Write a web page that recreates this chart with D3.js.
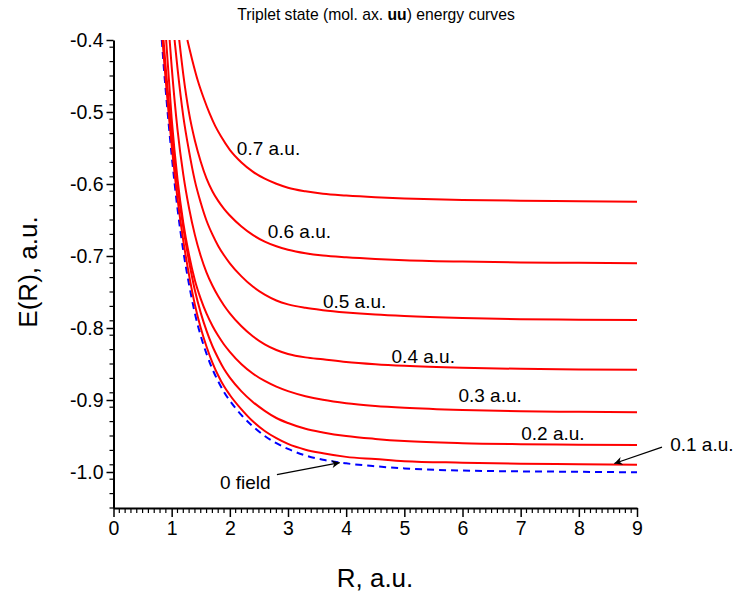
<!DOCTYPE html>
<html>
<head>
<meta charset="utf-8">
<script src="https://cdn.jsdelivr.net/npm/d3@7/dist/d3.min.js"></script>
<style>
  html, body { margin: 0; padding: 0; background: #fff; }
  svg { display: block; font-family: "Liberation Sans", Arial, sans-serif; }
</style>
</head>
<body>
<svg id="chart" width="736" height="597"></svg>
<script>
// ---------------- data ----------------
const xTicks = [0, 1, 2, 3, 4, 5, 6, 7, 8, 9];
const yTicks = [-0.4, -0.5, -0.6, -0.7, -0.8, -0.9, -1.0];
const xDomain = [0, 9];
const yDomain = [-1.05, -0.4];

// zero field (blue dashed)  [R, E]
const field0 = [[0.83,-0.400],[0.87,-0.443],[0.9,-0.472],[0.95,-0.518],[1.0,-0.560],[1.1,-0.634],[1.2,-0.693],[1.3,-0.740],[1.4,-0.780],[1.5,-0.811],[1.6,-0.836],[1.7,-0.857],[1.8,-0.874],[1.9,-0.889],[2.0,-0.901],[2.2,-0.921],[2.4,-0.937],[2.6,-0.950],[2.8,-0.960],[3.0,-0.968],[3.3,-0.977],[3.6,-0.983],[4.0,-0.988],[4.5,-0.992],[5.0,-0.995],[6.0,-0.998],[7.0,-0.9991],[8.0,-0.9997],[9.0,-1.0004]];
const field01 = [[0.843,-0.400],[0.87,-0.429],[0.9,-0.458],[0.95,-0.504],[1.0,-0.546],[1.1,-0.620],[1.2,-0.679],[1.3,-0.727],[1.4,-0.768],[1.5,-0.800],[1.6,-0.826],[1.7,-0.848],[1.8,-0.866],[1.9,-0.881],[2.0,-0.893],[2.2,-0.913],[2.4,-0.930],[2.6,-0.943],[2.8,-0.953],[3.0,-0.961],[3.3,-0.969],[3.6,-0.974],[4.0,-0.979],[4.5,-0.982],[5.0,-0.985],[6.0,-0.987],[7.0,-0.9885],[8.0,-0.9893],[9.0,-0.990]];
const field02 = [[0.86,-0.400],[0.9,-0.440],[0.95,-0.486],[1.0,-0.528],[1.1,-0.602],[1.2,-0.661],[1.3,-0.708],[1.4,-0.748],[1.5,-0.779],[1.6,-0.804],[1.7,-0.825],[1.8,-0.842],[1.9,-0.857],[2.0,-0.869],[2.2,-0.888],[2.4,-0.903],[2.6,-0.915],[2.8,-0.925],[3.0,-0.932],[3.3,-0.940],[3.6,-0.945],[4.0,-0.950],[4.5,-0.954],[5.0,-0.957],[6.0,-0.960],[7.0,-0.9613],[8.0,-0.962],[9.0,-0.9625]];
const field03 = [[0.905,-0.400],[1.0,-0.509],[1.1,-0.593],[1.2,-0.654],[1.3,-0.699],[1.4,-0.734],[1.5,-0.7595],[1.6,-0.7801],[1.7,-0.7968],[1.8,-0.8109],[1.9,-0.8229],[2.0,-0.8331],[2.2,-0.8503],[2.4,-0.8635],[2.6,-0.8736],[2.8,-0.8815],[3.0,-0.8877],[3.3,-0.8947],[3.6,-0.8998],[4.0,-0.9045],[4.5,-0.9082],[5.0,-0.9107],[6.0,-0.9138],[7.0,-0.9155],[8.0,-0.9164],[9.0,-0.917]];
const field04 = [[0.965,-0.400],[1.0,-0.437],[1.1,-0.524],[1.2,-0.587],[1.3,-0.634],[1.4,-0.671],[1.5,-0.700],[1.6,-0.723],[1.7,-0.741],[1.8,-0.756],[1.9,-0.7687],[2.0,-0.7796],[2.2,-0.7976],[2.4,-0.8118],[2.6,-0.8226],[2.8,-0.8305],[3.0,-0.836],[3.3,-0.8408],[3.6,-0.8435],[4.0,-0.8472],[4.5,-0.8503],[5.0,-0.8525],[6.0,-0.8552],[7.0,-0.8567],[8.0,-0.8575],[9.0,-0.858]];
const field05 = [[1.05,-0.400],[1.1,-0.439],[1.2,-0.506],[1.3,-0.555],[1.4,-0.596],[1.5,-0.626],[1.6,-0.651],[1.7,-0.670],[1.8,-0.686],[1.9,-0.699],[2.0,-0.7101],[2.2,-0.7283],[2.4,-0.7428],[2.6,-0.7537],[2.8,-0.7618],[3.0,-0.7672],[3.3,-0.772],[3.6,-0.7752],[4.0,-0.7784],[4.5,-0.7814],[5.0,-0.7835],[6.0,-0.7862],[7.0,-0.7877],[8.0,-0.7885],[9.0,-0.789]];
const field06 = [[1.13,-0.400],[1.2,-0.448],[1.3,-0.502],[1.4,-0.540],[1.5,-0.569],[1.6,-0.5925],[1.7,-0.610],[1.8,-0.6235],[1.9,-0.6345],[2.0,-0.6438],[2.2,-0.659],[2.4,-0.671],[2.6,-0.680],[2.8,-0.6865],[3.0,-0.6913],[3.3,-0.6962],[3.6,-0.6994],[4.0,-0.7019],[4.5,-0.7042],[5.0,-0.7058],[6.0,-0.7078],[7.0,-0.7089],[8.0,-0.7095],[9.0,-0.710]];
const field07 = [[1.27,-0.400],[1.35,-0.4266],[1.45,-0.4566],[1.55,-0.4806],[1.65,-0.5016],[1.75,-0.5196],[1.85,-0.5341],[2.0,-0.5526],[2.2,-0.5701],[2.4,-0.5831],[2.6,-0.5926],[2.8,-0.5996],[3.0,-0.6051],[3.3,-0.6101],[3.6,-0.6136],[4.0,-0.6161],[4.5,-0.6184],[5.0,-0.620],[6.0,-0.6221],[7.0,-0.6233],[8.0,-0.624],[9.0,-0.6246]];

const redCurves = [field01, field02, field03, field04, field05, field06, field07];
const curveLabels = ["0.2 a.u.", "0.3 a.u.", "0.4 a.u.", "0.5 a.u.", "0.6 a.u.", "0.7 a.u."];
// label anchors in data units (R, E): left edge / baseline
const labelR = [7.01, 5.93, 4.78, 3.60, 2.65, 2.12];
const labelE = [-0.9556, -0.9028, -0.8486, -0.7722, -0.675, -0.5597];

// ---------------- layout ----------------
const svg = d3.select("#chart");
const x = d3.scaleLinear().domain(xDomain).range([113.5, 637]);
const y = d3.scaleLinear().domain(yDomain).range([508, 40]);

const FONT = '"Liberation Sans", Arial, sans-serif';

// defs: arrowhead
svg.append("defs").append("marker")
  .attr("id", "arrow").attr("viewBox", "0 0 10 10")
  .attr("refX", 10).attr("refY", 5)
  .attr("markerWidth", 12).attr("markerHeight", 8)
  .attr("markerUnits", "userSpaceOnUse")
  .attr("orient", "auto")
  .append("path").attr("d", "M0,0 L10,5 L0,10 L3,5 Z").attr("fill", "#000");

// clip
svg.append("clipPath").attr("id", "plotclip")
  .append("rect").attr("x", x(0)).attr("y", y(-0.4) - 1)
  .attr("width", x(9) - x(0) + 2).attr("height", y(-1.05) - y(-0.4) + 1);

const line = d3.line().x(d => x(d[0])).y(d => y(d[1])).curve(d3.curveMonotoneX);

const plot = svg.append("g").attr("clip-path", "url(#plotclip)");

plot.append("path").datum(field0)
  .attr("d", line).attr("fill", "none")
  .attr("stroke", "#0000ff").attr("stroke-width", 2)
  .attr("stroke-dasharray", "7,5");

plot.selectAll(".red").data(redCurves).enter().append("path")
  .attr("class", "red")
  .attr("d", line).attr("fill", "none")
  .attr("stroke", "#ff0000").attr("stroke-width", 2);

// axes
const fmtY = d => d3.format(".1f")(d).replace("\u2212", "-");
const xAxis = d3.axisBottom(x).tickValues(xTicks).tickFormat(d3.format("d")).tickSize(9).tickSizeOuter(0).tickPadding(4);
const yAxis = d3.axisLeft(y).tickValues(yTicks).tickFormat(fmtY).tickSize(7).tickSizeOuter(0).tickPadding(3);

const minorX = d3.range(0, 90.5, 1).map(v => v / 10).filter(v => Math.abs(v - Math.round(v)) > 1e-6);
const minorY = d3.range(-105, -39.5, 2).map(v => v / 100).filter(v => Math.abs(v * 10 - Math.round(v * 10)) > 1e-6);

const gx = svg.append("g").attr("transform", `translate(0,${y(-1.05)})`).call(xAxis);
gx.selectAll(".minor").data(minorX).enter().append("line")
  .attr("x1", d => x(d)).attr("x2", d => x(d)).attr("y1", 0).attr("y2", 5)
  .attr("stroke", "#000").attr("stroke-width", 1.2);

const gy = svg.append("g").attr("transform", `translate(${x(0)},0)`).call(yAxis);
gy.selectAll(".minor").data(minorY).enter().append("line")
  .attr("y1", d => y(d)).attr("y2", d => y(d)).attr("x1", 0).attr("x2", -4)
  .attr("stroke", "#000").attr("stroke-width", 1.2);

[gx, gy].forEach(g => {
  g.select(".domain").attr("stroke", "#000").attr("stroke-width", 2);
  g.selectAll(".tick line").attr("stroke", "#000").attr("stroke-width", 1.5);
  g.selectAll(".tick text").attr("fill", "#000").style("font-family", FONT).style("font-size", "19.5px");
});

// axis titles
svg.append("text").attr("x", 375).attr("y", 587)
  .attr("text-anchor", "middle").style("font-family", FONT).style("font-size", "26px")
  .text("R, a.u.");
svg.append("text").attr("transform", "translate(37,272) rotate(-90)")
  .attr("text-anchor", "middle").style("font-family", FONT).style("font-size", "26px")
  .text("E(R), a.u.");

// title
const title = svg.append("text").attr("x", 376).attr("y", 20)
  .attr("text-anchor", "middle").style("font-family", FONT).style("font-size", "15.7px");
title.append("tspan").text("Triplet state (mol. ax. ");
title.append("tspan").style("font-weight", "bold").text("uu");
title.append("tspan").text(") energy curves");

// curve labels
svg.selectAll(".clabel").data(curveLabels).enter().append("text")
  .attr("x", (d, i) => x(labelR[i])).attr("y", (d, i) => y(labelE[i]))
  .style("font-family", FONT).style("font-size", "19px").text(d => d);

// 0.1 a.u. label with arrow
svg.append("text").attr("x", x(9.57)).attr("y", y(-0.9708))
  .style("font-family", FONT).style("font-size", "19px").text("0.1 a.u.");
svg.append("line")
  .attr("x1", x(9.43)).attr("y1", y(-0.9653)).attr("x2", x(8.61)).attr("y2", y(-0.9882))
  .attr("stroke", "#000").attr("stroke-width", 1.3).attr("marker-end", "url(#arrow)");

// 0 field label with arrow
svg.append("text").attr("x", x(1.83)).attr("y", y(-1.0236))
  .style("font-family", FONT).style("font-size", "19px").text("0 field");
svg.append("line")
  .attr("x1", x(2.81)).attr("y1", y(-1.0035)).attr("x2", x(3.89)).attr("y2", y(-0.987))
  .attr("stroke", "#000").attr("stroke-width", 1.3).attr("marker-end", "url(#arrow)");
</script>
</body>
</html>
